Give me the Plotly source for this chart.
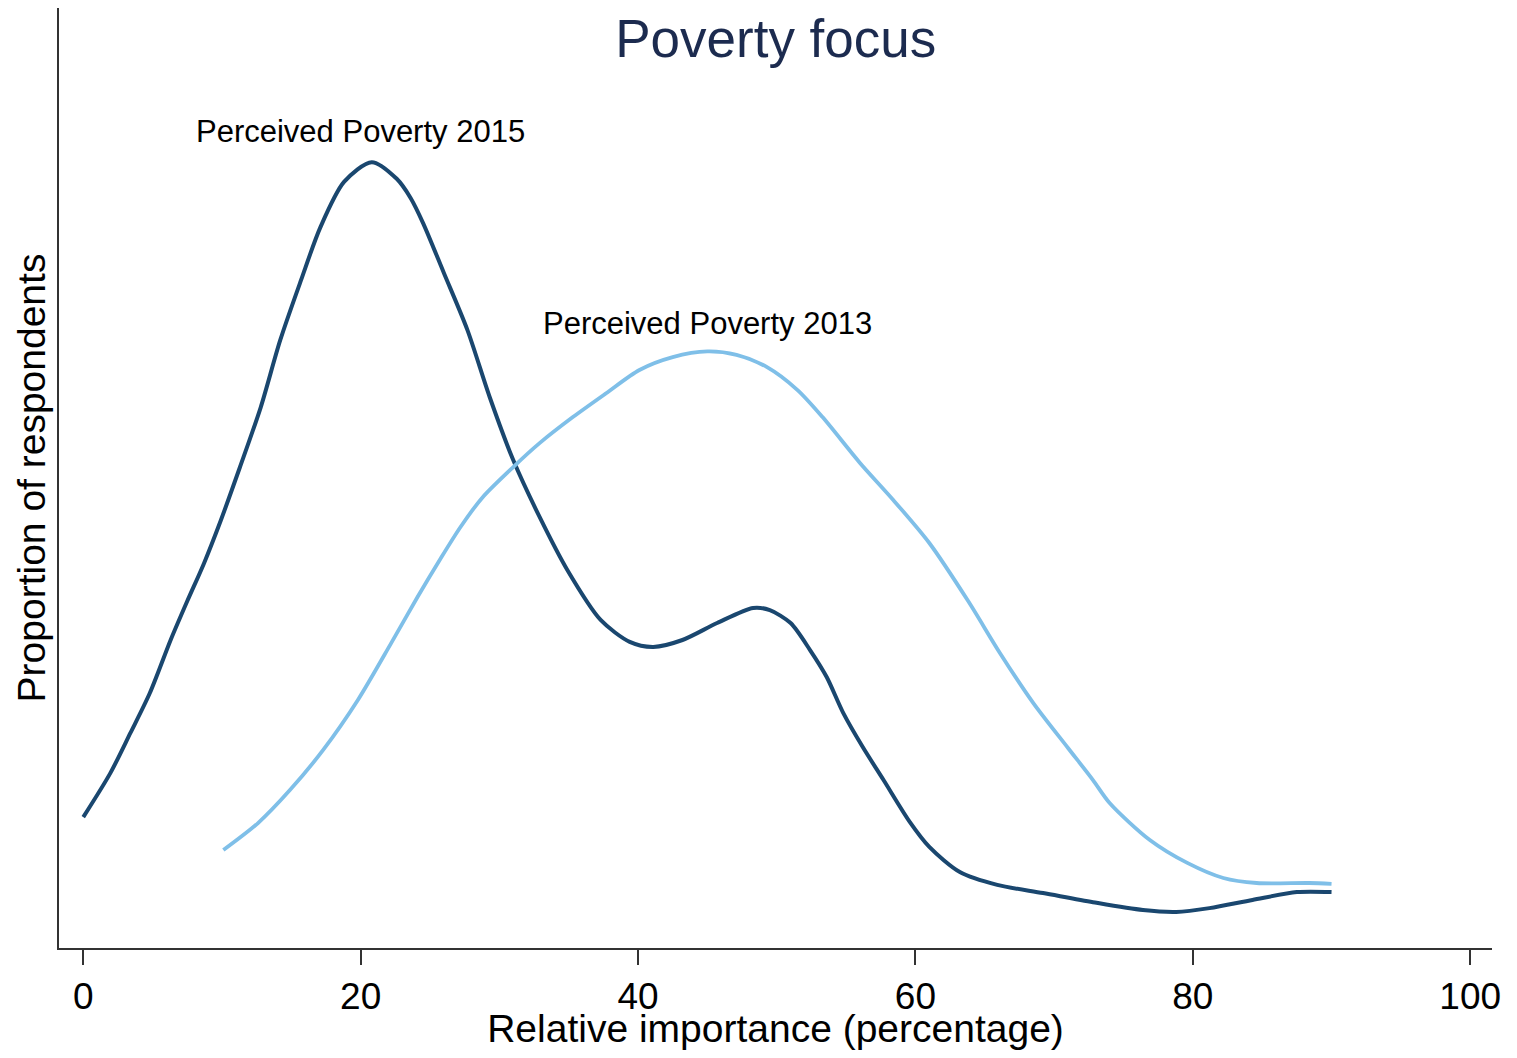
import plotly.graph_objects as go

# Perceived Poverty 2015 (kernel density)
x_2015 = [0, 1.95, 3.4, 4.8, 6.3, 7.5, 8.7, 9.9, 11.3, 12.8, 14.2, 15.7, 17.1, 18.8,
          20.8, 22.6, 23.6, 24.5, 26.0, 27.7, 29.3, 31.0, 32.9, 34.9, 37.3, 39.4,
          41.1, 43.2, 45.7, 48.3, 49.5, 51.0, 52.4, 53.6, 54.8, 56.2, 57.7, 59.6, 61.0,
          63.2, 65.9, 69.2, 72.8, 76.4, 78.8, 81.2, 84.3, 87.5, 90.0]
y_2015 = [0.00417, 0.00557, 0.00685, 0.00812, 0.00981, 0.01105, 0.01225, 0.01360, 0.01532,
          0.01723, 0.01936, 0.02127, 0.02296, 0.02440, 0.02503, 0.02450,
          0.02389, 0.02309, 0.02150, 0.01968, 0.01755, 0.01554, 0.01373, 0.01204, 0.01045,
          0.00975, 0.00959, 0.00981, 0.01035, 0.01083, 0.01076, 0.01035, 0.00949, 0.00863,
          0.00748, 0.00640, 0.00535, 0.00401, 0.00322, 0.00242, 0.00201, 0.00175, 0.00146,
          0.00121, 0.00115, 0.00127, 0.00153, 0.00178, 0.00178]

# Perceived Poverty 2013
x_2013 = [10.1, 12.6, 14.9, 17.3, 19.8, 22.2, 24.1, 25.7, 27.2, 28.8, 31.0, 32.9, 35.3,
          37.7, 40.1, 42.5, 45.0, 47.1, 49.3, 51.5, 53.3, 56.0, 58.4, 61.0, 63.8, 66.1,
          68.5, 71.0, 72.8, 74.0, 76.9, 79.6, 82.2, 84.6, 88.4, 90.0]
y_2013 = [0.00312, 0.00398, 0.00503, 0.00631, 0.00790, 0.00971, 0.01118, 0.01236, 0.01341,
          0.01436, 0.01532, 0.01608, 0.01691, 0.01767, 0.01841, 0.01882, 0.01900, 0.01889,
          0.01850, 0.01777, 0.01691, 0.01545, 0.01427, 0.01290, 0.01105, 0.00939, 0.00780,
          0.00637, 0.00535, 0.00462, 0.00344, 0.00271, 0.00223, 0.00207, 0.00207, 0.00204]

x_ticks = [0, 20, 40, 60, 80, 100]

labels = ["Perceived Poverty 2015", "Perceived Poverty 2013"]
label_x = [20.0, 45.0]
label_y = [0.0260, 0.0199]

DARK = "#1A476F"
LIGHT = "#7FBFE8"
FONT = "Liberation Sans, Arial, sans-serif"

fig = go.Figure()
fig.add_trace(go.Scatter(x=x_2015, y=y_2015, mode="lines", name=labels[0],
                         line=dict(color=DARK, width=4, shape="spline", smoothing=0.8)))
fig.add_trace(go.Scatter(x=x_2013, y=y_2013, mode="lines", name=labels[1],
                         line=dict(color=LIGHT, width=3.8, shape="spline", smoothing=0.8)))

for t, lx, ly in zip(labels, label_x, label_y):
    fig.add_annotation(x=lx, y=ly, text=t, showarrow=False,
                       font=dict(family=FONT, size=31, color="black"),
                       xanchor="center", yanchor="middle")

fig.update_layout(
    width=1501, height=1042,
    margin=dict(l=51, r=17, t=0, b=102),
    paper_bgcolor="white", plot_bgcolor="white",
    showlegend=False,
    font=dict(family=FONT, color="black"),
    title=dict(text="Poverty focus", x=0.5115, xanchor="center",
               y=1 - 30 / 1042, yanchor="middle", yref="container",
               font=dict(family=FONT, size=53, color="#1C2B4F")),
)

fig.update_xaxes(
    range=[-1.75, 101.57], tickvals=x_ticks, ticktext=[str(v) for v in x_ticks],
    showgrid=False, zeroline=False, showline=True, linecolor="#333333", linewidth=1.5,
    ticks="outside", ticklen=15, tickwidth=1.5, tickcolor="#333333",
    tickfont=dict(family=FONT, size=37, color="black"),
    title=dict(text="Relative importance (percentage)", standoff=0,
               font=dict(family=FONT, size=39, color="black")),
    automargin=False,
)
fig.update_yaxes(
    range=[0, 0.02994], showgrid=False, zeroline=False, showline=True,
    linecolor="#333333", linewidth=1.5, showticklabels=False, ticks="",
    title=dict(text="Proportion of respondents", standoff=0,
               font=dict(family=FONT, size=39, color="black")),
    automargin=False,
)

fig.write_html("out.html")
